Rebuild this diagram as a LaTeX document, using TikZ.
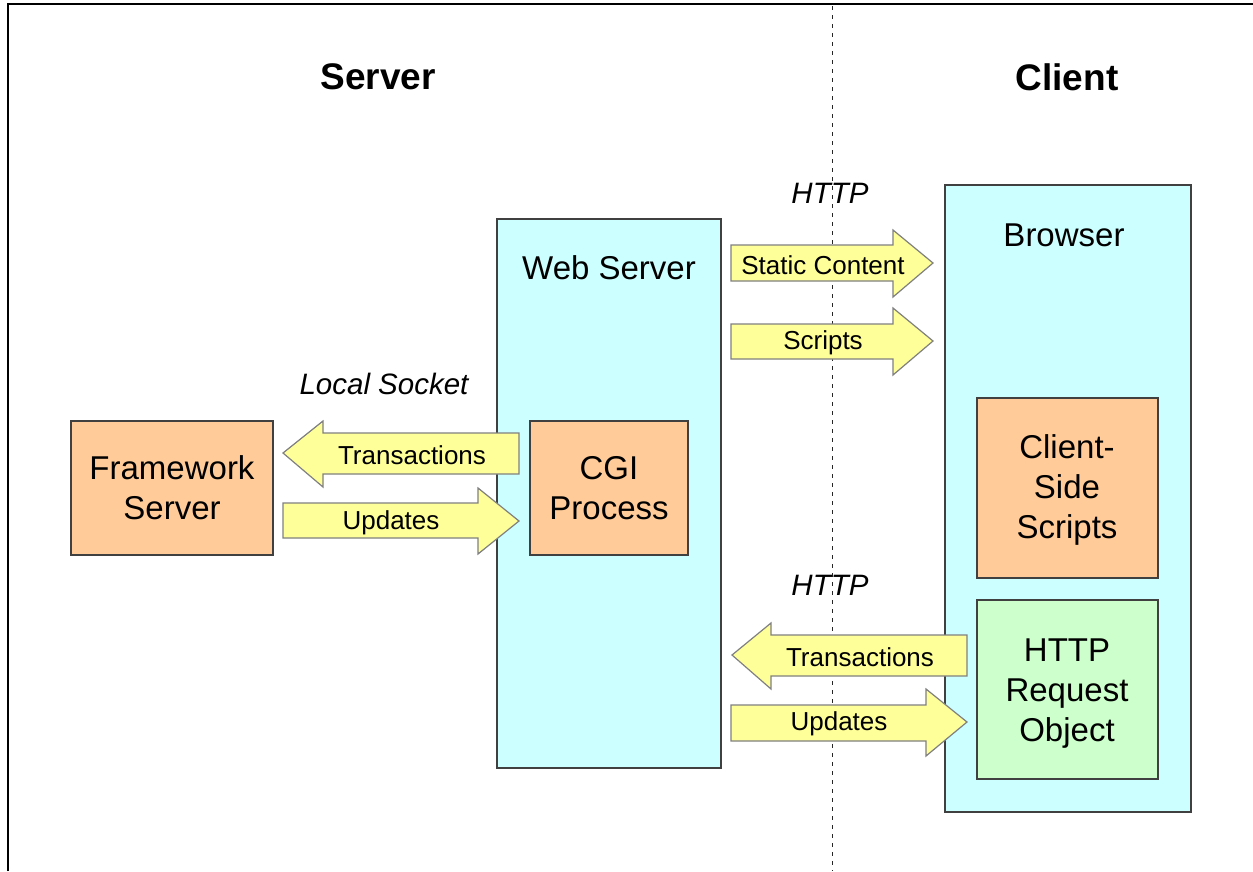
\documentclass[tikz,border=0pt]{standalone}
\usepackage{fontspec}
\setmainfont{Liberation Sans}
\definecolor{cyanfill}{HTML}{CCFFFF}
\definecolor{orangefill}{HTML}{FFCC99}
\definecolor{greenfill}{HTML}{CCFFCC}
\definecolor{arrowfill}{HTML}{FFFF99}
\definecolor{boxline}{HTML}{404040}
\definecolor{arrowline}{HTML}{808080}
\tikzset{
  boxstyle/.style={draw=boxline, line width=1.5pt},
  bigarrow/.style={draw=arrowline, fill=arrowfill, line width=1.2pt, line join=miter},
  bodytext/.style={font=\fontsize{33}{40}\selectfont, align=center, inner sep=0pt},
  arrowtext/.style={font=\fontsize{26}{30}\selectfont, inner sep=0pt},
  italictext/.style={font=\fontsize{29.5}{35}\selectfont\itshape, inner sep=0pt},
  titletext/.style={font=\fontsize{37}{44}\selectfont\bfseries, inner sep=0pt}
}
\begin{document}
\begin{tikzpicture}[x=1pt,y=-1pt]
\useasboundingbox (0,0) rectangle (1253,871);
\fill[white] (0,0) rectangle (1253,871);
% frame
\draw[line width=2pt] (8.3,871) -- (8.3,4.3) -- (1253,4.3);
% divider
\draw[line width=1pt, dash pattern=on 4pt off 5pt, black!85] (832,6) -- (832,871);
% titles
\node[titletext] (srvtitle) at (378,77) {Server};
\node[titletext] (clttitle) at (1067,77) {Client};
% containers
\draw[boxstyle, fill=cyanfill] (497,219) rectangle (721,768);
\node[bodytext] (websrv) at (609,268) {Web Server};
\draw[boxstyle, fill=cyanfill] (945,185) rectangle (1191,812);
\node[bodytext] (browser) at (1064,235) {Browser};
% inner boxes
\draw[boxstyle, fill=orangefill] (71,421) rectangle (273,555);
\node[bodytext] (fw) at (172,488) {Framework\\Server};
\draw[boxstyle, fill=orangefill] (530,421) rectangle (688,555);
\node[bodytext] (cgi) at (609,488) {CGI\\Process};
\draw[boxstyle, fill=orangefill] (977,398) rectangle (1158,578);
\node[bodytext] (css) at (1067,490) {Client-\\Side\\Scripts};
\draw[boxstyle, fill=greenfill] (977,600) rectangle (1158,779);
\node[bodytext] (hro) at (1067,694) {HTTP\\Request\\Object};
% italic labels
\node[italictext] (http1) at (830,193) {HTTP};
\node[italictext] (http2) at (830,585) {HTTP};
\node[italictext] (sock) at (384,384) {Local Socket};
% block arrows
\draw[bigarrow] (731,245) -- (893,245) -- (893,230) -- (933,263) -- (893,297) -- (893,281) -- (731,281) -- cycle;
\node[arrowtext] (static) at (823,265) {Static Content};
\draw[bigarrow] (731,324) -- (893,324) -- (893,308) -- (933,341) -- (893,375) -- (893,359) -- (731,359) -- cycle;
\node[arrowtext] (scripts) at (823,343) {Scripts};
\draw[bigarrow] (519,433) -- (323,433) -- (323,421) -- (283,453) -- (323,487) -- (323,474) -- (519,474) -- cycle;
\node[arrowtext] (trans1) at (412,455) {Transactions};
\draw[bigarrow] (283,503) -- (478,503) -- (478,488) -- (519,521) -- (478,554) -- (478,538) -- (283,538) -- cycle;
\node[arrowtext] (upd1) at (391,523) {Updates};
\draw[bigarrow] (967,635) -- (771,635) -- (771,623) -- (732,655) -- (771,689) -- (771,676) -- (967,676) -- cycle;
\node[arrowtext] (trans2) at (860,657) {Transactions};
\draw[bigarrow] (731,705) -- (926,705) -- (926,689) -- (967,722) -- (926,756) -- (926,741) -- (731,741) -- cycle;
\node[arrowtext] (upd2) at (839,724) {Updates};
\end{tikzpicture}
\end{document}
